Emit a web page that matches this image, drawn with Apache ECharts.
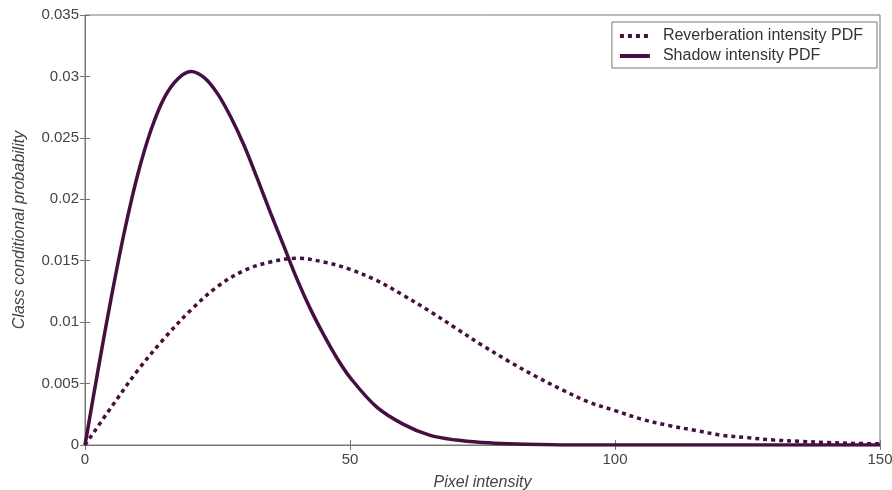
<!DOCTYPE html>
<html>
<head>
<meta charset="utf-8">
<script src="https://cdn.jsdelivr.net/npm/echarts@6/dist/echarts.min.js"></script>
<style>
  html, body { margin: 0; padding: 0; background: #fff; }
  #chart { width: 892px; height: 490px; }
</style>
</head>
<body>
<div id="chart"></div>
<script>
// values
const reverbX = [0, 5, 10, 15, 20, 25, 30, 35, 40, 45, 50, 55, 60, 65, 70, 75, 80, 85, 90, 95, 100,
  105, 110, 115, 120, 125, 130, 135, 140, 145, 150];
const reverbY = [0, 0.0031, 0.0061, 0.0087, 0.0110, 0.0129, 0.0142, 0.0149, 0.0152, 0.0149, 0.0143,
  0.0134, 0.0122, 0.0109, 0.0095, 0.0081, 0.0068, 0.0056, 0.0045, 0.0035, 0.0028,
  0.0021, 0.0016, 0.0012, 0.0008, 0.0006, 0.0004, 0.0003, 0.0002, 0.00013, 0.0001];

const shadowX = [0, 2.5, 5, 7.5, 10, 12.5, 15, 17.5, 20, 22.5, 25, 27.5, 30, 32.5, 35, 37.5, 40,
  42.5, 45, 47.5, 50, 55, 60, 65, 70, 75, 80, 90, 100, 110, 120, 130, 140, 150];
const shadowY = [0, 0.0062, 0.0121, 0.0175, 0.0221, 0.0257, 0.0283, 0.0298, 0.0304, 0.0299, 0.0286,
  0.0267, 0.0244, 0.0217, 0.0189, 0.0162, 0.0135, 0.0111, 0.0090, 0.0071, 0.0055,
  0.0031, 0.0017, 0.0008, 0.0004, 0.0002, 0.0001, 0.00001, 0, 0, 0, 0, 0, 0];

const lineColor = '#45103f';

function pairs(xs, ys) {
  return xs.map((x, i) => [x, ys[i]]);
}

var dom = document.getElementById('chart');
var myChart = echarts.init(dom, null, { renderer: 'canvas' });

const axisFont = { fontFamily: 'Liberation Sans', fontSize: 15, color: '#444' };
const nameFont = { fontFamily: 'Liberation Sans', fontSize: 16, color: '#444', fontStyle: 'italic' };

var option = {
  animation: false,
  grid: {
    left: 85, right: 12, top: 15, bottom: 45,
    outerBoundsMode: 'none',
    show: true, borderColor: '#777', borderWidth: 1
  },
  legend: {
    orient: 'vertical',
    right: 15,
    top: 22,
    padding: [6, 14, 4, 6],
    itemGap: 4,
    itemWidth: 30,
    itemHeight: 16,
    borderColor: '#777',
    borderWidth: 1,
    backgroundColor: '#fff',
    itemStyle: { opacity: 0 },
    lineStyle: { width: 4 },
    textStyle: { fontFamily: 'Liberation Sans', fontSize: 16, color: '#333', padding: [0, 0, 0, 8] },
    data: ['Reverberation intensity PDF', 'Shadow intensity PDF']
  },
  xAxis: [
    {
      type: 'value', min: 0, max: 150, interval: 50,
      name: 'Pixel intensity', nameLocation: 'middle', nameGap: 30,
      nameTextStyle: nameFont,
      axisLine: { lineStyle: { color: '#777' } },
      axisTick: { inside: true, length: 5, lineStyle: { color: '#777' } },
      axisLabel: Object.assign({ margin: 7 }, axisFont),
      splitLine: { show: false }
    },
    {
      type: 'value', min: 0, max: 150, interval: 50, position: 'top',
      axisLine: { show: false },
      axisTick: { inside: true, length: 5, lineStyle: { color: '#777' } },
      axisLabel: { show: false },
      splitLine: { show: false }
    }
  ],
  yAxis: [
    {
      type: 'value', min: 0, max: 0.035, interval: 0.005,
      name: 'Class conditional probability', nameLocation: 'middle', nameGap: 57,
      nameTextStyle: nameFont,
      axisLine: { show: true, lineStyle: { color: '#777' } },
      axisTick: { show: true, inside: true, length: 5, lineStyle: { color: '#777' } },
      axisLabel: Object.assign({ margin: 6 }, axisFont),
      splitLine: { show: false }
    },
    {
      type: 'value', min: 0, max: 0.035, interval: 0.005, position: 'right',
      axisLine: { show: false },
      axisTick: { show: true, inside: true, length: 5, lineStyle: { color: '#777' } },
      axisLabel: { show: false },
      splitLine: { show: false }
    }
  ],
  series: [
    {
      name: 'Reverberation intensity PDF',
      type: 'line',
      smooth: 0.35,
      symbol: 'none',
      data: pairs(reverbX, reverbY),
      itemStyle: { color: lineColor },
      lineStyle: { color: lineColor, width: 3.5, type: [4, 4], cap: 'butt' }
    },
    {
      name: 'Shadow intensity PDF',
      type: 'line',
      smooth: 0.35,
      symbol: 'none',
      data: pairs(shadowX, shadowY),
      itemStyle: { color: lineColor },
      lineStyle: { color: lineColor, width: 3.5 }
    }
  ]
};

myChart.setOption(option);
</script>
</body>
</html>
